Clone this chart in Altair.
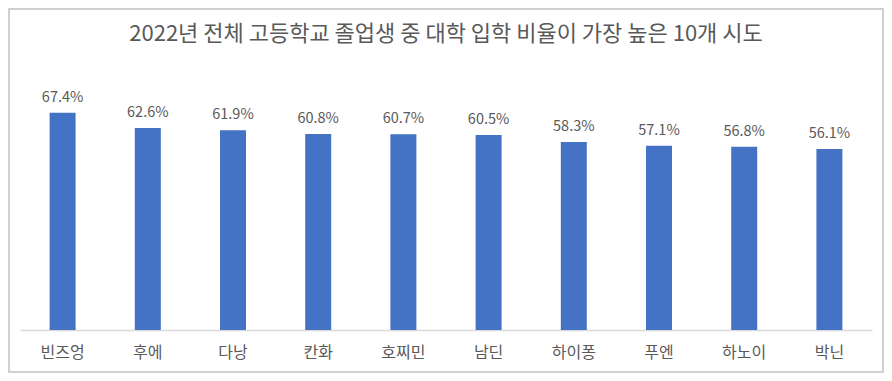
import altair as alt
import pandas as pd

cities = ["빈즈엉", "후에", "다낭", "칸화", "호찌민", "남딘", "하이퐁", "푸엔", "하노이", "박닌"]
rates = [67.4, 62.6, 61.9, 60.8, 60.7, 60.5, 58.3, 57.1, 56.8, 56.1]
title_text = "2022년 전체 고등학교 졸업생 중 대학 입학 비율이 가장 높은 10개 시도"

df = pd.DataFrame({"city": cities, "rate": rates})
df["label"] = [f"{v:.1f}%" for v in rates]

FONT = "Noto Sans CJK KR"
GRAY = "#595959"

x = alt.X("city:N", sort=cities, title=None,
          scale=alt.Scale(paddingInner=0.695, paddingOuter=0.3475),
          axis=alt.Axis(labelAngle=0, labelFontSize=16, labelColor=GRAY, labelFont=FONT,
                        labelPadding=14, ticks=False, domainColor="#d9d9d9", domainWidth=1.5))
y = alt.Y("rate:Q", title=None, scale=alt.Scale(domain=[0, 80]), axis=None)

bars = alt.Chart(df).mark_bar(color="#4472C4").encode(x=x, y=y)
labels = alt.Chart(df).mark_text(dy=-8, baseline="bottom", fontSize=14.5, color=GRAY, font=FONT).encode(
    x=alt.X("city:N", sort=cities), y="rate:Q", text="label:N")

title = alt.Chart(pd.DataFrame({"t": [title_text]})).mark_text(
    fontSize=22, font=FONT, color=GRAY, baseline="middle", align="center").encode(
    x=alt.value(426), y=alt.value(-38), text="t:N")

border = alt.Chart(df).mark_rect(fill=None, stroke="#d0d0d0", strokeWidth=2).encode(
    x=alt.value(-11), x2=alt.value(863), y=alt.value(-63), y2=alt.value(300))

chart = alt.layer(bars, labels, title, border).properties(
    width=852, height=258,
    autosize=alt.AutoSizeParams(type="none"),
    padding={"left": 12, "top": 64, "right": 12, "bottom": 43},
).configure_view(stroke=None)

chart.save("out.html", embed_options={"renderer": "svg", "actions": False})
